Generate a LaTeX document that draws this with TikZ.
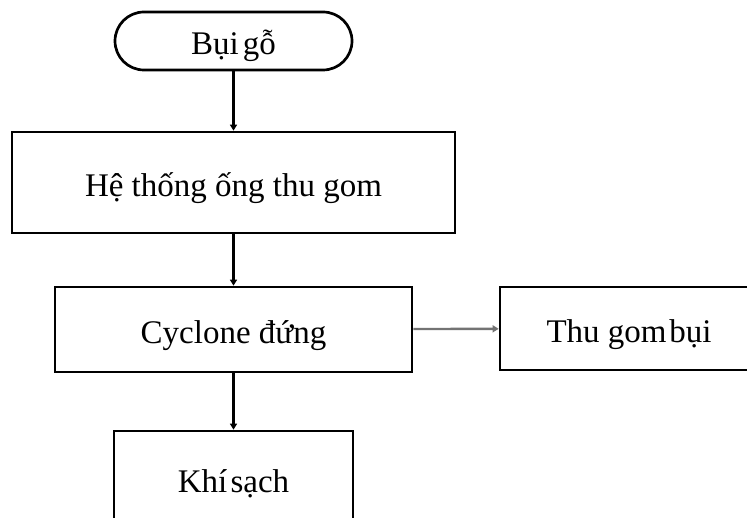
\documentclass[tikz,border=0pt]{standalone}
\usepackage{fontspec}
\setmainfont{Liberation Serif}
\usetikzlibrary{arrows.meta}
\begin{document}
\begin{tikzpicture}[x=1pt,y=-1pt,
  box/.style={draw=black,line width=2.7pt,inner sep=0pt,
    font=\fontsize{33}{38}\selectfont,text height=33pt,text depth=5pt},
  pill/.style={box,rounded corners=29pt},
  flow/.style={line width=2.2pt,-{Triangle[length=6pt,width=7pt]}},
  side/.style={draw=black!55,line width=2.4pt,-{Triangle[length=6pt,width=7pt]}}]
\useasboundingbox (0,0) rectangle (747,518);
\clip (0,0) rectangle (747,518);
% process chain
\node[pill,minimum width=237pt,minimum height=58pt] (dust) at (233.5,41) {Bụi\hspace{0.12em}gỗ};
\node[box,minimum width=443pt,minimum height=101pt] (duct) at (233.5,182.5) {Hệ thống ống thu gom};
\node[box,minimum width=357pt,minimum height=85pt] (cyc) at (233.5,329.5) {Cyclone đứng};
\node[box,minimum width=258pt,minimum height=83pt] (bin) at (629,328.5) {Thu gom\hspace{0.08em}bụi};
\node[box,minimum width=239pt,minimum height=94pt] (air) at (233.5,478) {Khí\hspace{0.1em}sạch};
% connectors
\draw[flow] (dust) -- (duct);
\draw[flow] (duct) -- (cyc);
\draw[flow] (cyc) -- (air);
\draw[side] (cyc) -- (bin);
\end{tikzpicture}
\end{document}
